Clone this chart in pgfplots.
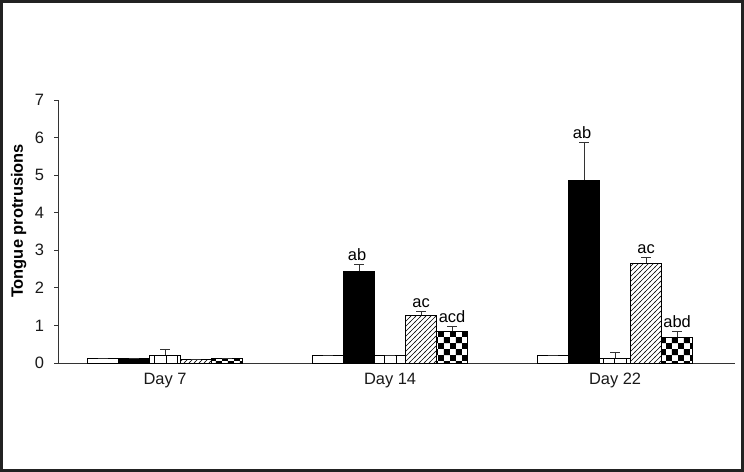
\documentclass[border=0pt]{standalone}
\usepackage{fontspec}
\setmainfont{Liberation Sans}
\usepackage{pgfplots}
\pgfplotsset{compat=1.18}
\usetikzlibrary{patterns}
\pgfdeclarepatternformonly{checker}{\pgfpointorigin}{\pgfqpoint{12.4bp}{12.4bp}}{\pgfqpoint{12.4bp}{12.4bp}}{%
  \pgfpathrectangle{\pgfpointorigin}{\pgfqpoint{6.2bp}{6.2bp}}%
  \pgfpathrectangle{\pgfqpoint{6.2bp}{6.2bp}}{\pgfqpoint{6.2bp}{6.2bp}}%
  \pgfusepath{fill}}
\pgfdeclarepatternformonly{diag}{\pgfqpoint{-1bp}{-1bp}}{\pgfqpoint{6bp}{6bp}}{\pgfqpoint{5bp}{5bp}}{%
  \pgfsetlinewidth{0.5bp}%
  \pgfpathmoveto{\pgfqpoint{-0.5bp}{-0.5bp}}%
  \pgfpathlineto{\pgfqpoint{5.5bp}{5.5bp}}%
  \pgfusepath{stroke}}
\pgfdeclarepatternformonly{vlines}{\pgfqpoint{0bp}{-1bp}}{\pgfqpoint{11.5bp}{2bp}}{\pgfqpoint{11.5bp}{1bp}}{%
  \pgfsetlinewidth{0.8bp}%
  \pgfpathmoveto{\pgfqpoint{5bp}{-1bp}}%
  \pgfpathlineto{\pgfqpoint{5bp}{2bp}}%
  \pgfusepath{stroke}}
\definecolor{errc}{HTML}{333333}
\definecolor{framec}{HTML}{222222}
\begin{document}
\begin{tikzpicture}[x=1bp,y=1bp]
\path[use as bounding box] (0,0) rectangle (744,472);
\draw[framec, line width=3bp] (1.5,1.5) rectangle (742.5,470.5);
\begin{axis}[
  at={(58bp,109bp)}, anchor=south west,
  scale only axis, width=677bp, height=263bp,
  xmin=-0.476, xmax=2.533, ymin=0, ymax=7,
  axis x line=bottom, axis y line=left,
  axis line style={-, line width=0.8bp, color=black!80},
  ybar, bar width=31bp,
  ytick={0,1,...,7},
  xtick={0,1,2}, xticklabels={Day 7, Day 14, Day 22},
  x tick style={draw=none},
  extra x ticks={0.542,1.533}, extra x tick labels={},
  extra x tick style={tick style={draw=black!80, line width=0.8bp}, major tick length=5bp, tick align=outside},
  y tick style={line width=0.8bp, color=black!80},
  tick align=outside, major tick length=3.5bp,
  /pgf/number format/assume math mode=true,
  tick label style={font=\fontsize{16.5}{18}\selectfont, color=black!90},
  yticklabel style={xshift=-7bp},
  xticklabel style={yshift=-3bp},
  ylabel={\bfseries Tongue protrusions},
  ylabel style={font=\fontsize{16.5}{18}\selectfont, at={(axis description cs:-0.058,0.54)}, anchor=center, rotate=0},
  every axis plot/.append style={draw=black, line width=0.8bp,
    /pgfplots/error bars/y dir=plus, /pgfplots/error bars/y explicit,
    /pgfplots/error bars/error bar style={line width=0.9bp, color=errc},
    /pgfplots/error bars/error mark options={rotate=90, mark size=5bp, line width=0.9bp, color=errc}},
  clip=false,
]
\addplot[fill=white, bar shift=-62bp] coordinates {
 (0,0.12) +- (0,0)
 (1,0.21) +- (0,0)
 (2,0.20) +- (0,0)};
\addplot[fill=black, bar shift=-31bp] coordinates {
 (0,0.11) +- (0,0)
 (1,2.44) +- (0,0.19)
 (2,4.87) +- (0,0.99)};
\addplot[fill=white, postaction={pattern=vlines}, bar shift=0bp] coordinates {
 (0,0.21) +- (0,0.16)
 (1,0.19) +- (0,0)
 (2,0.12) +- (0,0.16)};
\addplot[fill=white, postaction={pattern=diag}, bar shift=31bp] coordinates {
 (0,0.10) +- (0,0)
 (1,1.27) +- (0,0.10)
 (2,2.65) +- (0,0.15)};
\addplot[fill=white, postaction={pattern=checker}, bar shift=62bp] coordinates {
 (0,0.12) +- (0,0)
 (1,0.85) +- (0,0.12)
 (2,0.68) +- (0,0.17)};
\begin{scope}[every node/.style={font=\fontsize{16.5}{18}\selectfont, anchor=south, inner sep=3.5bp}]
\node at ([xshift=-33bp]axis cs:1,2.63) {ab};
\node at ([xshift=31bp]axis cs:1,1.37) {ac};
\node at ([xshift=62bp]axis cs:1,0.97) {acd};
\node at ([xshift=-33bp]axis cs:2,5.86) {ab};
\node at ([xshift=31bp]axis cs:2,2.80) {ac};
\node at ([xshift=62bp]axis cs:2,0.85) {abd};
\end{scope}
\end{axis}
\end{tikzpicture}
\end{document}
